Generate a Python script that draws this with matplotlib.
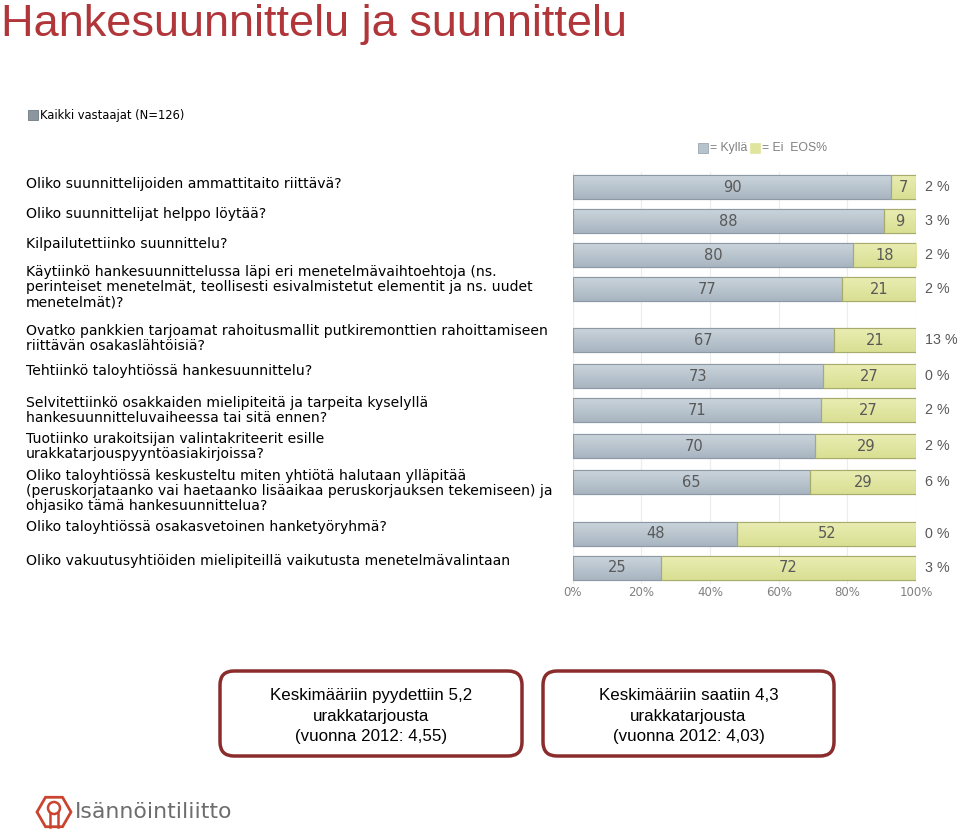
import numpy as np
import matplotlib
matplotlib.use("Agg")
import matplotlib.pyplot as plt
from matplotlib.patches import FancyBboxPatch, Rectangle, RegularPolygon, Circle
from matplotlib.colors import LinearSegmentedColormap

# ---- data ----
questions = [
    "Oliko suunnittelijoiden ammattitaito riittävä?",
    "Oliko suunnittelijat helppo löytää?",
    "Kilpailutettiinko suunnittelu?",
    "Käytiinkö hankesuunnittelussa läpi eri menetelmävaihtoehtoja (ns.\n"
    "perinteiset menetelmät, teollisesti esivalmistetut elementit ja ns. uudet\n"
    "menetelmät)?",
    "Ovatko pankkien tarjoamat rahoitusmallit putkiremonttien rahoittamiseen\n"
    "riittävän osakaslähtöisiä?",
    "Tehtiinkö taloyhtiössä hankesuunnittelu?",
    "Selvitettiinkö osakkaiden mielipiteitä ja tarpeita kyselyllä\n"
    "hankesuunnitteluvaiheessa tai sitä ennen?",
    "Tuotiinko urakoitsijan valintakriteerit esille\n"
    "urakkatarjouspyyntöasiakirjoissa?",
    "Oliko taloyhtiössä keskusteltu miten yhtiötä halutaan ylläpitää\n"
    "(peruskorjataanko vai haetaanko lisäaikaa peruskorjauksen tekemiseen) ja\n"
    "ohjasiko tämä hankesuunnittelua?",
    "Oliko taloyhtiössä osakasvetoinen hanketyöryhmä?",
    "Oliko vakuutusyhtiöiden mielipiteillä vaikutusta menetelmävalintaan",
]
kylla = np.array([90, 88, 80, 77, 67, 73, 71, 70, 65, 48, 25])
ei = np.array([7, 9, 18, 21, 21, 27, 27, 29, 29, 52, 72])
eos = [2, 3, 2, 2, 13, 0, 2, 2, 6, 0, 3]
x_ticks = [0, 0.2, 0.4, 0.6, 0.8, 1.0]
x_ticklabels = ["0%", "20%", "40%", "60%", "80%", "100%"]

# ---- layout (pixel rows) ----
row_y = [187, 221, 255, 289, 340, 376, 410, 446, 482, 534, 568]
label_y = [185, 215, 245, 273, 332, 372, 404, 440, 477, 528, 562]

c_kylla = "#b6c3ce"
c_kylla_edge = "#8d9aa5"
c_ei = "#e0e59e"
c_ei_edge = "#a7ac6c"
c_txt = "#595959"
c_red = "#b0363a"
c_box = "#8a2c2c"
sans = ["Liberation Sans", "DejaVu Sans"]

grad_k = LinearSegmentedColormap.from_list("gk", ["#cad4dc", "#a8b5c0"])
grad_e = LinearSegmentedColormap.from_list("ge", ["#e9edb2", "#d9df92"])

W, H = 960, 833
fig = plt.figure(figsize=(W / 100, H / 100), dpi=100)

# overlay in pixel coordinates for texts and decorations
ov = fig.add_axes([0, 0, 1, 1])
ov.set_xlim(0, W)
ov.set_ylim(H, 0)
ov.axis("off")

ov.text(1, 24, "Hankesuunnittelu ja suunnittelu", fontsize=32.5,
        color=c_red, family=sans, va="center", ha="left")

# respondent group marker
ov.add_patch(Rectangle((28, 110), 10, 10, facecolor="#8c969e",
                       edgecolor="#6f7a82", lw=0.6))
ov.text(40, 115, "Kaikki vastaajat (N=126)", fontsize=8.3,
        va="center", ha="left")

# legend
ov.add_patch(Rectangle((698, 143), 10, 10, facecolor=c_kylla,
                       edgecolor=c_kylla_edge, lw=0.5))
ov.text(710, 148, "= Kyllä", fontsize=8.8, family=sans, color="#808080",
        va="center")
ov.add_patch(Rectangle((750, 143), 10, 10, facecolor=c_ei,
                       edgecolor=c_ei, lw=0.5))
ov.text(762, 148, "= Ei  EOS%", fontsize=8.8, family=sans, color="#808080",
        va="center")

# question labels
for q, y in zip(questions, label_y):
    ov.text(26, y - 8, q, fontsize=10.1, va="top", ha="left",
            linespacing=1.1)

# summary boxes
boxes = [
    (220, 522, "Keskimääriin pyydettiin 5,2\nurakkatarjousta\n(vuonna 2012: 4,55)"),
    (543, 834, "Keskimääriin saatiin 4,3\nurakkatarjousta\n(vuonna 2012: 4,03)"),
]
for x0, x1, txt in boxes:
    ov.add_patch(FancyBboxPatch((x0, 671), x1 - x0, 85,
                                boxstyle="round,pad=0,rounding_size=14",
                                facecolor="white", edgecolor=c_box, lw=2.5))
    ov.text((x0 + x1) / 2, 716, txt, fontsize=12.2, family=sans,
            ha="center", va="center", linespacing=1.45)

# logo
ov.add_patch(RegularPolygon((54, 812), 6, radius=17, orientation=np.pi / 6,
                            facecolor="none", edgecolor="#c9452f", lw=2))
ov.add_patch(Circle((54, 808), 6, facecolor="none", edgecolor="#c9452f", lw=1.8))
ov.plot([50, 50], [813, 827], color="#c9452f", lw=1.8)
ov.plot([58, 58], [813, 827], color="#c9452f", lw=1.8)
ov.text(75, 812, "Isännöintiliitto", fontsize=15.8, color="#6d6d6d",
        va="center", ha="left")

# ---- bar chart ----
ax = fig.add_axes([572.7 / W, 1 - 584 / H, 343.3 / W, (584 - 172) / H])
tot = kylla + ei
sk = kylla / tot
se = ei / tot
bk = ax.barh(row_y, sk, height=24, color=c_kylla, edgecolor=c_kylla_edge,
             lw=0.8, zorder=3)
be = ax.barh(row_y, se, left=sk, height=24, color=c_ei, edgecolor=c_ei_edge,
             lw=0.8, zorder=3)

# vertical gradient fill clipped to each bar
grad = np.linspace(0, 1, 64).reshape(-1, 1)
for bars, cm in ((bk, grad_k), (be, grad_e)):
    for p in bars:
        x0, y0 = p.get_x(), p.get_y()
        im = ax.imshow(grad, cmap=cm, aspect="auto", zorder=3.5,
                       extent=(x0, x0 + p.get_width(), y0 + p.get_height(), y0),
                       origin="upper")
        im.set_clip_path(p)
    for p in bars:
        ax.add_patch(Rectangle((p.get_x(), p.get_y()), p.get_width(),
                               p.get_height(), facecolor="none",
                               edgecolor=p.get_edgecolor(), lw=0.8, zorder=3.6))

for y, k, e, a, b, n in zip(row_y, sk, se, kylla, ei, eos):
    ax.text(k / 2, y, str(a), fontsize=10.5, color=c_txt,
            ha="center", va="center", zorder=4)
    ax.text(k + e / 2, y, str(b), fontsize=10.5, color=c_txt,
            ha="center", va="center", zorder=4)
    ax.text(1.026, y, f"{n} %", fontsize=10.3, family=sans, color=c_txt,
            ha="left", va="center")

ax.set_xlim(0, 1)
ax.set_ylim(584, 172)
ax.set_xticks(x_ticks)
ax.set_xticklabels(x_ticklabels)
ax.tick_params(axis="x", length=0, pad=1.5, labelsize=8.5, labelcolor="#808080")
ax.set_yticks([])
for s in ax.spines.values():
    s.set_visible(False)
ax.grid(axis="x", color="#ececec", lw=0.8, zorder=0)
ax.patch.set_alpha(0)

fig.savefig("out.png", dpi=100)
